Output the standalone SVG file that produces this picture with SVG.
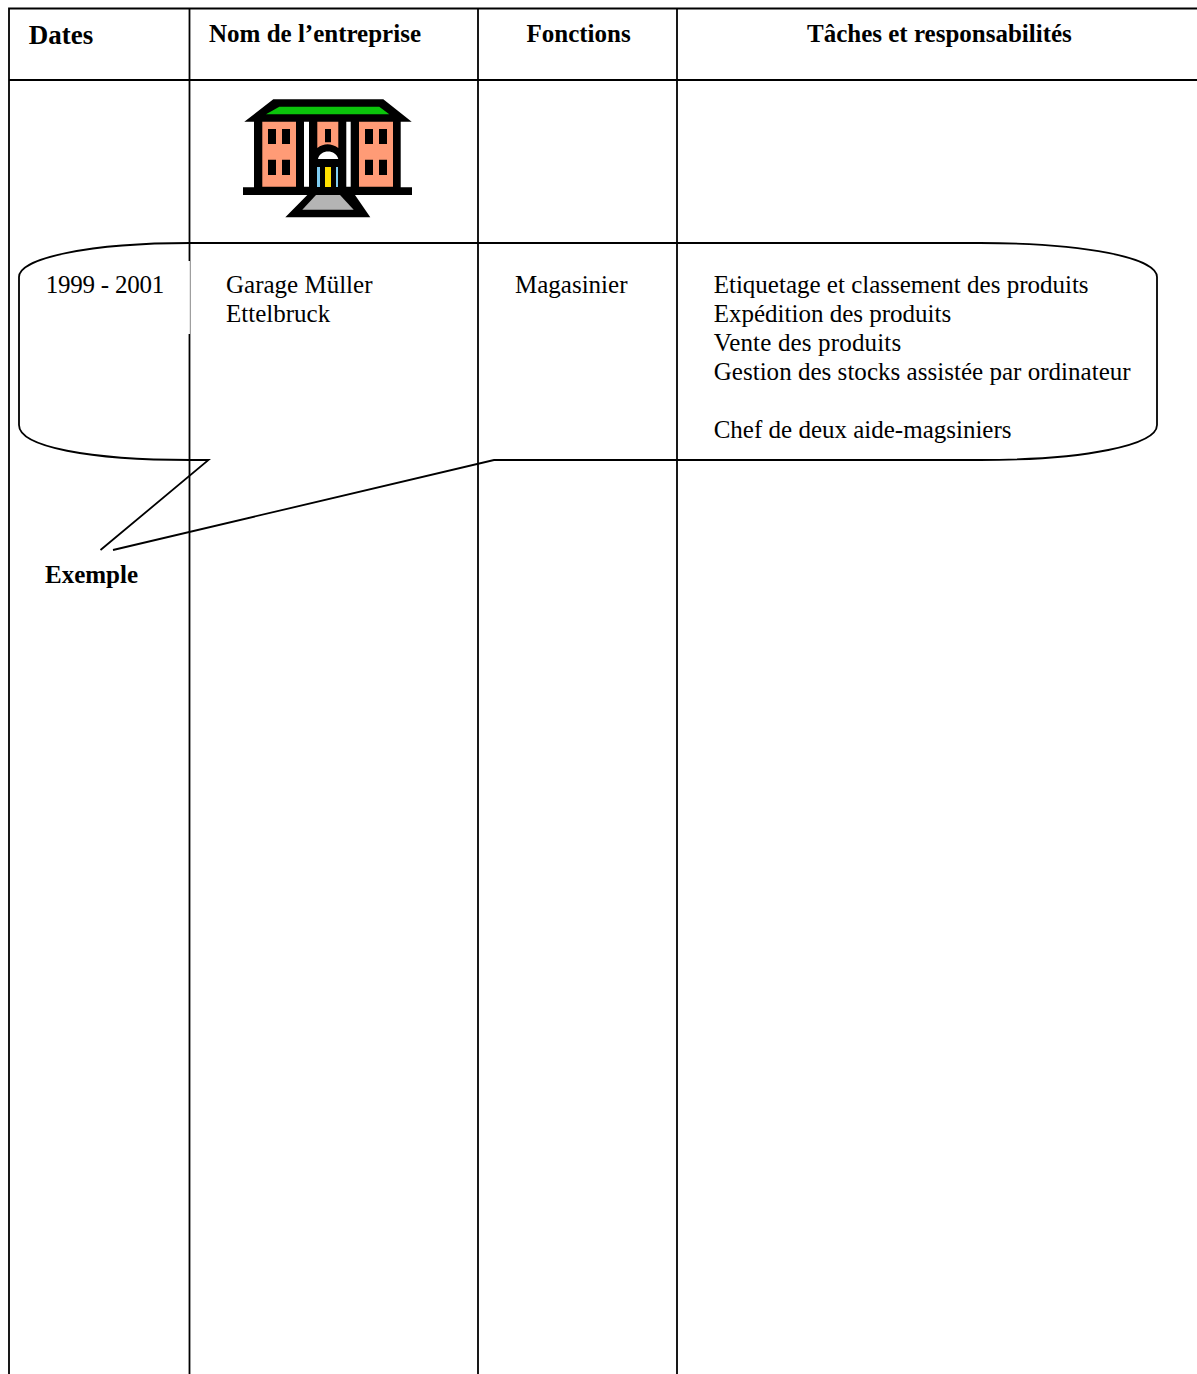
<svg xmlns="http://www.w3.org/2000/svg" width="1197" height="1374" viewBox="0 0 1197 1374">
<style>
text{font-family:"Liberation Serif","Times New Roman",serif;font-size:25px;fill:#000}
.b{font-weight:bold}
.l{stroke:#000;stroke-width:1.8;fill:none}
.k{fill:#000}
.s{fill:#ff9b76}
.w{fill:#fff}
</style>
<rect width="1197" height="1374" fill="#fff"/>
<g id="connectors">
<path class="l" d="M9 1374V8.5H1197M9 80H1197M189.500 8.500V261M189.500 334V1374M478 8.500V1374M677 8.500V1374"/>
<path d="M190.300 261V334" stroke="#888" stroke-width="1" fill="none"/>
</g>
<g id="callout">
<path class="l" d="M100.500 550L208.500 460H190C90 460 19 447 19 425V277C19 258 90 243 190 243H980C1086 243 1157 258 1157 277V425C1157 445 1086 460 980 460H494L113 550"/>
</g>
<g id="building">
<path class="k" d="M244.300 121.700L273.300 99.300H383.300L411.700 121.700H400.700V187.300H412V195H355L370.300 217.300H285.300L307.300 195H243V187.300H254V121.700Z"/>
<path d="M266 114.300L279.300 106.700H379.300L389.300 114.300Z" fill="#0bc40b"/>
<path class="s" d="M262.300 121.700H296V186.700H262.300ZM359 121.700H393V186.700H359ZM317.300 121.700H338.300V148C331 143 324 143 317.300 148Z"/>
<path class="w" d="M304 121.700H309V186.700H304ZM346.300 121.700H350.700V186.700H346.300ZM318 159C320 149 336 149 338.300 159Z"/>
<path d="M316 195H340L353.700 209.700H302.300Z" fill="#b4b4b4"/>
<path class="k" d="M268 129H276V144H268ZM282 129H290V144H282ZM365 129H373V144H365ZM379 129H387V144H379ZM268 159.700H276V175H268ZM282 159.700H290V175H282ZM365 159.700H373V175H365ZM379 159.700H387V175H379ZM325 129H331V142.300H325Z"/>
<path d="M317 167H320V187H317ZM336 167H338V187H336Z" fill="#7fcdf2"/>
<path d="M325 167H331V187H325Z" fill="#ffe000"/>
</g>
<g id="header">
<text class="b" x="28.700" y="44" style="font-size:27px">Dates</text>
<text class="b" x="209" y="42">Nom de l’entreprise</text>
<text class="b" x="526.500" y="42">Fonctions</text>
<text class="b" x="807" y="42">Tâches et responsabilités</text>
</g>
<g id="row">
<text x="45.700" y="293" textLength="118.500">1999 - 2001</text>
<text x="226" y="293">Garage Müller</text>
<text x="226" y="322">Ettelbruck</text>
<text x="515" y="293">Magasinier</text>
<text x="713.700" y="293">Etiquetage et classement des produits</text>
<text x="713.700" y="322">Expédition des produits</text>
<text x="713.700" y="351" textLength="187.500">Vente des produits</text>
<text x="713.700" y="380" textLength="417">Gestion des stocks assistée par ordinateur</text>
<text x="713.700" y="438">Chef de deux aide-magsiniers</text>
</g>
<g id="label">
<text class="b" x="45" y="583">Exemple</text>
</g>
</svg>
